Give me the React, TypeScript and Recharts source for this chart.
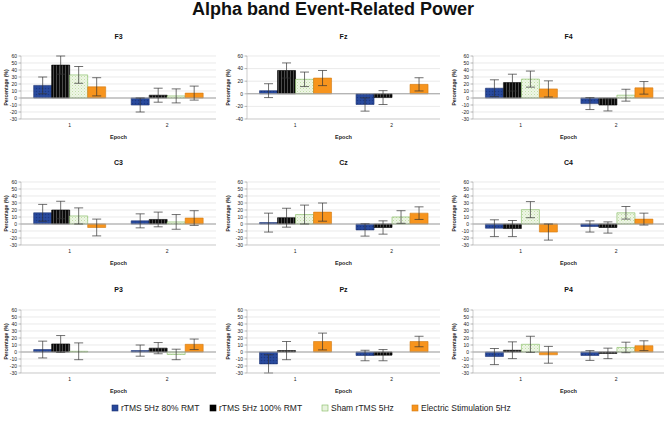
import React from 'react';
import { BarChart, Bar, XAxis, YAxis, CartesianGrid, ErrorBar, ReferenceLine } from 'recharts';

// ---------------- DATA ----------------
const epochs = ['1', '2'];
const seriesNames = ['rTMS 5Hz 80% RMT', 'rTMS 5Hz 100% RMT', 'Sham rTMS 5Hz', 'Electric Stimulation 5Hz'];
const mainTitle = 'Alpha band Event-Related Power';

// means per epoch: [rTMS 80%, rTMS 100%, Sham, Electric]
const F3_mean = [[18, 47, 33, 16], [-10, 4, 3, 7]];
const F3_err = [[12, 13, 12, 13], [10, 10, 10, 10]];
const Fz_mean = [[5, 37, 23, 25], [-17, -6, 0, 15]];
const Fz_err = [[11, 12, 11.5, 12], [10.5, 11, 11, 10.5]];
const F4_mean = [[14, 22, 27, 13], [-8, -10, 4, 14.5]];
const F4_err = [[12, 12, 11.5, 11.5], [8.5, 8.5, 8.5, 9]];
const C3_mean = [[16, 20, 11.5, -5], [4.5, 6.5, 3, 8.5]];
const C3_err = [[12, 12.5, 11.5, 12], [10, 10.5, 10.5, 10.5]];
const Cz_mean = [[2, 9, 13.5, 17], [-8.5, -5, 10, 15.5]];
const Cz_err = [[13.5, 13.5, 13.5, 13], [8.8, 9.5, 9, 9]];
const C4_mean = [[-6, -6.5, 20.5, -11.5], [-3.5, -5, 16, 7]];
const C4_err = [[12, 11.5, 11.5, 11.5], [8, 8, 9, 8.5]];
const P3_mean = [[3.5, 11.5, 1, 0], [2, 5.5, -3.5, 11]];
const P3_err = [[12, 12, 12, 12.5], [8, 8, 7.5, 7.5]];
const Pz_mean = [[-17, 2, 0, 15], [-5, -4.5, 0, 15]];
const Pz_err = [[13, 13, 12.5, 12], [7.5, 8, 8, 7.5]];
const P4_mean = [[-6.5, 2.5, 11, -4], [-5, -2, 6.5, 9]];
const P4_err = [[11.5, 12, 11.5, 12], [7, 7.5, 7.5, 7]];

const ticksStd = [-30, -20, -10, 0, 10, 20, 30, 40, 50, 60];
const ticksFz = [-40, -20, 0, 20, 40, 60];

const panels = [
  { name: 'F3', mean: F3_mean, err: F3_err, ticks: ticksStd },
  { name: 'Fz', mean: Fz_mean, err: Fz_err, ticks: ticksFz },
  { name: 'F4', mean: F4_mean, err: F4_err, ticks: ticksStd },
  { name: 'C3', mean: C3_mean, err: C3_err, ticks: ticksStd },
  { name: 'Cz', mean: Cz_mean, err: Cz_err, ticks: ticksStd },
  { name: 'C4', mean: C4_mean, err: C4_err, ticks: ticksStd },
  { name: 'P3', mean: P3_mean, err: P3_err, ticks: ticksStd },
  { name: 'Pz', mean: Pz_mean, err: Pz_err, ticks: ticksStd },
  { name: 'P4', mean: P4_mean, err: P4_err, ticks: ticksStd },
];

// ---------------- STYLE / LAYOUT ----------------
const FONT = '"Liberation Sans", Arial, sans-serif';
const COL_X = [0, 222, 444];
const COL_W = [222, 222, 223];
const Y_AXIS_W = [21, 25, 29];
const RIGHT_M = [6, 4, 3];
const YLABEL_DX = [6, 6, 10];
const PLOT_TOP = [56, 182, 310];
const TITLE_Y = [36, 162.5, 289];
const PLOT_H = 63;
const TOP_M = 4;
const XAXIS_H = 25;

const fills = ['url(#pBlue)', 'url(#pBlack)', 'url(#pGreen)', 'url(#pOrange)'];
const strokes = ['#1c3272', '#000000', '#7fb85c', '#d27a12'];
const legendFill = ['#27479a', '#000000', '#e8f3de', '#f7941d'];
const LEGEND_X = [112, 210, 322, 412];
const LEGEND_Y = 408;

function buildData(mean: number[][], err: number[][]) {
  return epochs.map((e, i) => {
    const row: any = { epoch: e };
    mean[i].forEach((v, j) => {
      row['s' + j] = v;
      row['e' + j] = err[i][j];
    });
    return row;
  });
}

const makeYLabel = (dx: number) => (props: any) => {
  const vb = props.viewBox || {};
  const x = (vb.x || 0) + dx;
  const y = (vb.y || 0) + (vb.height || 0) / 2;
  return (
    <text
      x={x}
      y={y}
      transform={`rotate(-90 ${x} ${y})`}
      textAnchor="middle"
      dominantBaseline="central"
      fontSize={5}
      fontWeight="bold"
      fontFamily={FONT}
      fill="#222"
    >
      Percentage (%)
    </text>
  );
};

const xLabel = (props: any) => {
  const vb = props.viewBox || {};
  const x = (vb.x || 0) + (vb.width || 0) / 2;
  const y = (vb.y || 0) + 18;
  return (
    <text x={x} y={y} textAnchor="middle" dominantBaseline="central" fontSize={5.5} fontWeight="bold" fontFamily={FONT} fill="#222">
      Epoch
    </text>
  );
};

function Panel({ idx }: { idx: number }) {
  const p = panels[idx];
  const col = idx % 3;
  const row = Math.floor(idx / 3);
  const data = buildData(p.mean, p.err);
  const domain = [p.ticks[0], p.ticks[p.ticks.length - 1]];
  const height = TOP_M + PLOT_H + XAXIS_H;
  return (
    <div style={{ position: 'absolute', left: COL_X[col], top: PLOT_TOP[row] - TOP_M }}>
      <BarChart
        width={COL_W[col]}
        height={height}
        data={data}
        margin={{ top: TOP_M, right: RIGHT_M[col], left: 0, bottom: 0 }}
        barCategoryGap="13%"
        barGap={0}
      >
        <CartesianGrid vertical={false} stroke="#dcdcdc" strokeWidth={0.6} />
        <XAxis
          dataKey="epoch"
          height={XAXIS_H}
          tickLine={false}
          tickSize={0}
          tickMargin={4}
          axisLine={{ stroke: '#c4c4c4', strokeWidth: 0.7 }}
          tick={{ fontSize: 5, fill: '#222', fontFamily: FONT }}
          label={{ content: xLabel }}
        />
        <YAxis
          width={Y_AXIS_W[col]}
          domain={domain}
          ticks={p.ticks}
          interval={0}
          allowDataOverflow
          tickSize={2.5}
          tickMargin={1.5}
          axisLine={{ stroke: '#b8b8b8', strokeWidth: 0.7 }}
          tickLine={{ stroke: '#888', strokeWidth: 0.6 }}
          tick={{ fontSize: 5, fill: '#222', fontFamily: FONT }}
          label={{ content: makeYLabel(YLABEL_DX[col]) }}
        />
        <YAxis
          yAxisId="frame"
          orientation="right"
          width={0}
          domain={domain}
          tick={false}
          tickLine={false}
          axisLine={{ stroke: '#c4c4c4', strokeWidth: 0.7 }}
        />
        <ReferenceLine y={0} stroke="#a0a0a0" strokeWidth={1.1} />
        {[0, 1, 2, 3].map((j) => (
          <Bar
            key={j}
            dataKey={'s' + j}
            name={seriesNames[j]}
            fill={fills[j]}
            stroke={strokes[j]}
            strokeWidth={0.6}
            isAnimationActive={false}
          >
            <ErrorBar dataKey={'e' + j} width={4.5} stroke="#333" strokeWidth={0.7} />
          </Bar>
        ))}
      </BarChart>
    </div>
  );
}

export default function App() {
  return (
    <div style={{ position: 'absolute', left: 0, top: 0, width: 667, height: 424, background: '#fff', overflow: 'hidden' }}>
      <svg width={0} height={0} style={{ position: 'absolute' }}>
        <defs>
          <pattern id="pBlue" width="3" height="3" patternUnits="userSpaceOnUse">
            <rect width="3" height="3" fill="#26479a" />
            <rect x="0" y="0" width="1" height="1" fill="#1d3880" />
            <rect x="1.5" y="1.5" width="1" height="1" fill="#2f52a6" />
          </pattern>
          <pattern id="pBlack" width="3" height="3" patternUnits="userSpaceOnUse">
            <rect width="3" height="3" fill="#0a0a0a" />
            <rect x="2" y="0" width="0.8" height="3" fill="#5a5a5a" />
          </pattern>
          <pattern id="pGreen" width="3" height="3" patternUnits="userSpaceOnUse">
            <rect width="3" height="3" fill="#eef6e6" />
            <rect x="0" y="0" width="1" height="1" fill="#c2dea8" />
            <rect x="1.5" y="1.5" width="1" height="1" fill="#d4e8c0" />
          </pattern>
          <pattern id="pOrange" width="3" height="3" patternUnits="userSpaceOnUse">
            <rect width="3" height="3" fill="#f7941d" />
          </pattern>
        </defs>
      </svg>
      {panels.map((_, i) => (
        <Panel key={i} idx={i} />
      ))}
      <svg width={667} height={424} style={{ position: 'absolute', left: 0, top: 0, pointerEvents: 'none' }}>
        <text x={333} y={15} textAnchor="middle" fontSize={18} fontWeight="bold" fontFamily={FONT} fill="#111">
          {mainTitle}
        </text>
        {panels.map((p, i) => {
          const col = i % 3;
          const row = Math.floor(i / 3);
          const plotL = COL_X[col] + Y_AXIS_W[col];
          const plotR = COL_X[col] + COL_W[col] - RIGHT_M[col];
          return (
            <text
              key={p.name}
              x={(plotL + plotR) / 2}
              y={TITLE_Y[row]}
              textAnchor="middle"
              dominantBaseline="central"
              fontSize={7}
              fontWeight="bold"
              fontFamily={FONT}
              fill="#111"
            >
              {p.name}
            </text>
          );
        })}
        {seriesNames.map((s, j) => (
          <g key={s}>
            <rect
              x={LEGEND_X[j]}
              y={LEGEND_Y - 3}
              width={6}
              height={6}
              fill={legendFill[j]}
              stroke={strokes[j]}
              strokeWidth={0.6}
            />
            <text
              x={LEGEND_X[j] + 9}
              y={LEGEND_Y}
              dominantBaseline="central"
              fontSize={8.5}
              fontFamily={FONT}
              fill="#222"
            >
              {s}
            </text>
          </g>
        ))}
      </svg>
    </div>
  );
}
